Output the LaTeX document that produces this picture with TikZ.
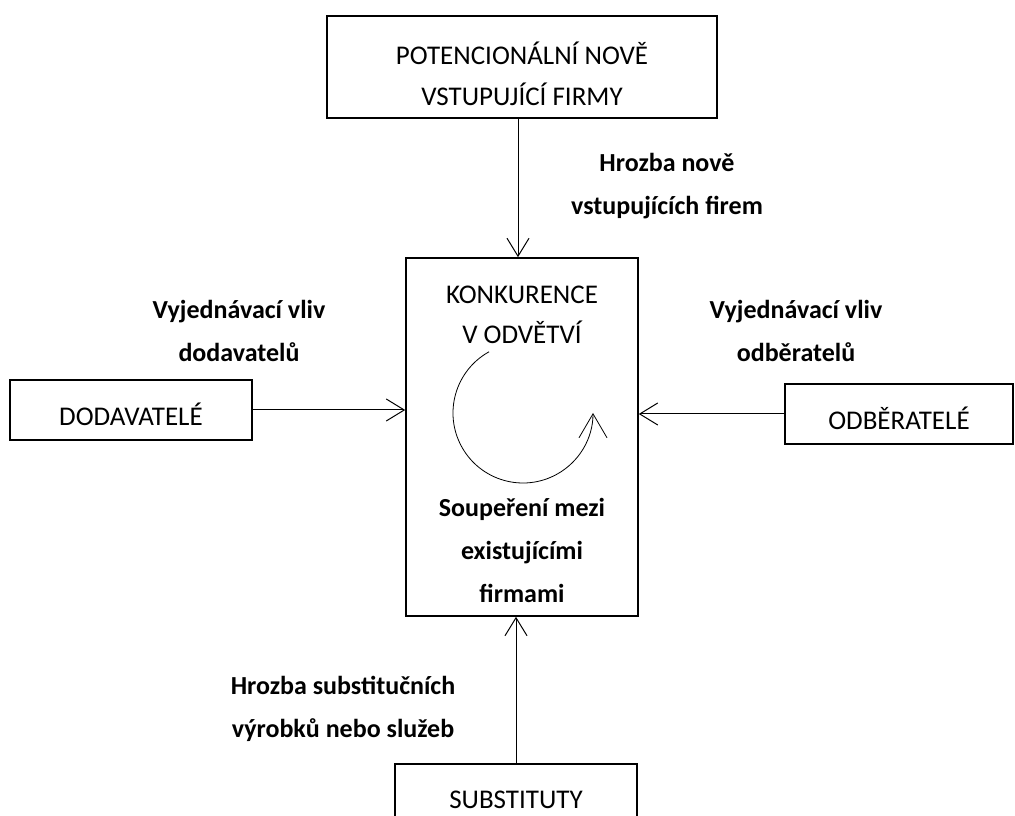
\documentclass[tikz,border=0pt]{standalone}
\usepackage{fontspec}
\setmainfont{Carlito}
\usetikzlibrary{arrows.meta}

\begin{document}
\begin{tikzpicture}[
        x=1pt, y=1pt,
        font=\fontsize{27}{41}\selectfont,
        box/.style={draw, line width=1.6pt, align=center, inner sep=0pt},
        sidebox/.style={box, text height=31pt, text depth=0pt},
        forcetext/.style={font=\fontsize{26}{43}\selectfont\bfseries, align=center},
        flow/.style={-{Straight Barb[length=18pt, width=22pt]}, line width=1pt}
    ]
        \useasboundingbox (0,0) rectangle (1015,816);
        \clip (0,0) rectangle (1015,816);

        % Boxes
        \node[box, minimum width=390, minimum height=102] (newfirms) at (522,749) {};
        \node[align=center] (newfirmstext) at (522,742) {POTENCIONÁLNÍ NOVĚ\\VSTUPUJÍCÍ FIRMY};
        \node[box, minimum width=232, minimum height=358] (rival) at (522,379) {};
        \node[sidebox, minimum width=242, minimum height=60] (supp) at (131,406) {DODAVATELÉ};
        \node[sidebox, minimum width=228, minimum height=60] (buy) at (899,402) {ODBĚRATELÉ};
        \node[box, minimum width=242, minimum height=72] (subst) at (516,16) {SUBSTITUTY};

        % Inside the central box
        \node[align=center, font=\fontsize{27}{40}\selectfont] (branch) at (522,501)
            {KONKURENCE\\V ODVĚTVÍ};
        \node[forcetext] (rivtext) at (522,266) {Soupeření mezi\\existujícími\\firmami};
        \coordinate (cyc) at (523,403);
        \draw[line width=0.8pt, -{Straight Barb[length=24pt, width=28pt]}]
            (cyc) ++(119:70) arc[start angle=119, end angle=360, radius=70];

        % Forces
        \node[forcetext] (threatnew) at (667,630) {Hrozba nově\\vstupujících firem};
        \node[forcetext] (supplabel) at (239,485) {Vyjednávací vliv\\dodavatelů};
        \node[forcetext] (buylabel) at (796,485) {Vyjednávací vliv\\odběratelů};
        \node[forcetext] (substlabel) at (343,107) {Hrozba substitučních\\výrobků nebo služeb};

        % Arrows
        \coordinate (topend) at ([xshift=-4pt]newfirms.south);
        \draw[flow] (topend) -- (topend |- rival.north);
        \draw[flow] (supp.east) -- (supp.east -| rival.west);
        \draw[flow] (buy.west) -- (buy.west -| rival.east);
        \draw[flow] (subst.north) -- (subst.north |- rival.south);

    \end{tikzpicture}
\end{document}
